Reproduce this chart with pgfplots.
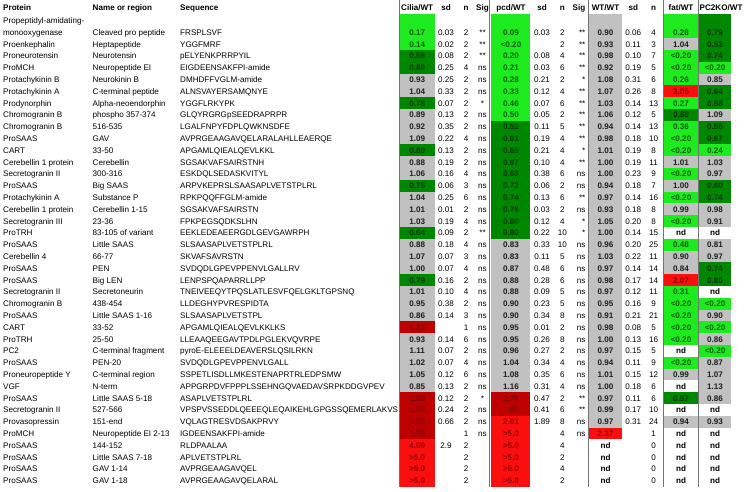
\documentclass[border=0pt]{standalone}
\usepackage{fontspec}
\setmainfont{Liberation Sans}
\usepackage{pgfplots}
\usepackage{pgfplotstable}
\pgfplotsset{compat=1.18}

% fill colours
\definecolor{cg}{RGB}{30,235,30}
\definecolor{cd}{RGB}{0,135,0}
\definecolor{cs}{RGB}{193,193,193}
\definecolor{cm}{RGB}{190,0,0}
\definecolor{cr}{RGB}{250,15,15}
\definecolor{cn}{RGB}{255,255,255}
% text colours on those fills (1 lime, 2 dark green, 3 grey, 4 dark red, 5 red, 6 none)
\definecolor{t1}{RGB}{15,95,15}
\definecolor{t2}{RGB}{0,55,0}
\definecolor{t3}{RGB}{30,30,30}
\definecolor{t4}{RGB}{105,0,0}
\definecolor{t5}{RGB}{150,0,0}
\definecolor{t6}{RGB}{0,0,0}

\pgfdeclareplotmark{cell}{\pgfpathrectangle{\pgfpoint{-0.5pt*\cw}{-0.5pt*\ch}}{\pgfpoint{1pt*\cw}{1pt*\ch}}\pgfusepathqfill}
\pgfdeclareplotmark{nothing}{}

\pgfplotsset{
  cellplot/.style={scatter, only marks, mark=cell, point meta=explicit symbolic,
    scatter/classes={g={fill=cg},d={fill=cd},s={fill=cs},m={fill=cm},r={fill=cr},n={fill=cn}},
    visualization depends on={#1 \as \cw},
    visualization depends on={(rawy < 30) ? 24.4 : 11.9 \as \ch}},
  txt/.style={only marks, mark=nothing, point meta=explicit symbolic, nodes near coords,
    every node near coord/.append style={inner sep=0pt, text=black,
      font=\fontsize{8.1}{9}\selectfont, anchor=#1}},
  valtxt/.style={only marks, mark=nothing, point meta=explicit symbolic, nodes near coords,
    every node near coord/.append style={inner sep=0pt, text=t#1,
      font=\fontsize{8.1}{9}\selectfont\bfseries, anchor=base}},
  hdr/.style={only marks, mark=nothing, point meta=explicit symbolic, nodes near coords,
    every node near coord/.append style={inner sep=0pt, text=black,
      font=\fontsize{8.1}{9}\selectfont\bfseries, anchor=#1}},
}

\pgfplotstableread{
r p nm sq
0 Propeptidyl-amidating- {} {}
1 monooxygenase {Cleaved pro peptide} FRSPLSVF
2 Proenkephalin Heptapeptide YGGFMRF
3 Proneurotensin Neurotensin pELYENKPRRPYIL
4 ProMCH {Neuropeptide EI} EIGDEENSAKFPI-amide
5 {Protachykinin B} {Neurokinin B} DMHDFFVGLM-amide
6 {Protachykinin A} {C-terminal peptide} ALNSVAYERSAMQNYE
7 Prodynorphin Alpha-neoendorphin YGGFLRKYPK
8 {Chromogranin B} {phospho 357-374} GLQYRGRGpSEEDRAPRPR
9 {Chromogranin B} 516-535 LGALFNPYFDPLQWKNSDFE
10 ProSAAS GAV AVPRGEAAGAVQELARALAHLLEAERQE
11 CART 33-50 APGAMLQIEALQEVLKKL
12 {Cerebellin 1 protein} Cerebellin SGSAKVAFSAIRSTNH
13 {Secretogranin II} 300-316 ESKDQLSEDASKVITYL
14 ProSAAS {Big SAAS} ARPVKEPRSLSAASAPLVETSTPLRL
15 {Protachykinin A} {Substance P} RPKPQQFFGLM-amide
16 {Cerebellin 1 protein} {Cerebellin 1-15} SGSAKVAFSAIRSTN
17 {Secretogranin III} 23-36 FPKPEGSQDKSLHN
18 ProTRH {83-105 of variant} EEKLEDEAEERGDLGEVGAWRPH
19 ProSAAS {Little SAAS} SLSAASAPLVETSTPLRL
20 {Cerebellin 4} 66-77 SKVAFSAVRSTN
21 ProSAAS PEN SVDQDLGPEVPPENVLGALLRV
22 ProSAAS {Big LEN} LENPSPQAPARRLLPP
23 {Secretogranin II} Secretoneurin TNEIVEEQYTPQSLATLESVFQELGKLTGPSNQ
24 {Chromogranin B} 438-454 LLDEGHYPVRESPIDTA
25 ProSAAS {Little SAAS 1-16} SLSAASAPLVETSTPL
26 CART 33-52 APGAMLQIEALQEVLKKLKS
27 ProTRH 25-50 LLEAAQEEGAVTPDLPGLEKVQVRPE
28 PC2 {C-terminal fragment} pyroE-ELEEELDEAVERSLQSILRKN
29 ProSAAS PEN-20 SVDQDLGPEVPPENVLGALL
30 {Proneuropeptide Y} {C-terminal region} SSPETLISDLLMKESTENAPRTRLEDPSMW
31 VGF N-term APPGRPDVFPPPLSSEHNGQVAEDAVSRPKDDGVPEV
32 ProSAAS {Little SAAS 5-18} ASAPLVETSTPLRL
33 {Secretogranin II} 527-566 VPSPVSSEDDLQEEEQLEQAIKEHLGPGSSQEMERLAKVS
34 Provasopressin 151-end VQLAGTRESVDSAKPRVY
35 ProMCH {Neuropeptide EI 2-13} IGDEENSAKFPI-amide
36 ProSAAS 144-152 RLDPAALAA
37 ProSAAS {Little SAAS 7-18} APLVETSTPLRL
38 ProSAAS {GAV 1-14} AVPRGEAAGAVQEL
39 ProSAAS {GAV 1-18} AVPRGEAAGAVQELARAL
}\lefttab

\pgfplotstableread{
r val c k sd n sig
1 0.17 g 1 0.03 2 **
2 0.14 g 1 0.02 2 **
3 0.56 d 2 0.08 2 **
4 0.80 d 2 0.25 4 ns
5 0.93 s 3 0.25 2 ns
6 1.04 s 3 0.33 2 ns
7 0.78 d 2 0.07 2 *
8 0.89 s 3 0.13 2 ns
9 0.92 s 3 0.35 2 ns
10 1.09 s 3 0.22 4 ns
11 0.80 d 2 0.13 2 ns
12 0.88 s 3 0.19 2 ns
13 1.06 s 3 0.16 4 ns
14 0.75 d 2 0.06 3 ns
15 1.04 s 3 0.25 6 ns
16 1.01 s 3 0.01 2 ns
17 1.03 s 3 0.19 4 ns
18 0.64 d 2 0.09 2 **
19 0.88 s 3 0.18 4 ns
20 1.07 s 3 0.07 3 ns
21 1.00 s 3 0.07 4 ns
22 0.79 d 2 0.16 2 ns
23 1.01 s 3 0.10 4 ns
24 0.95 s 3 0.38 2 ns
25 0.86 s 3 0.14 3 ns
26 1.20 m 4 {} 1 ns
27 0.93 s 3 0.14 6 ns
28 1.11 s 3 0.07 2 ns
29 1.02 s 3 0.07 4 ns
30 1.05 s 3 0.12 6 ns
31 0.85 s 3 0.13 2 ns
32 1.23 m 4 0.12 2 *
33 1.23 m 4 0.24 2 ns
34 1.23 m 4 0.66 2 ns
35 1.76 m 4 {} 1 ns
36 4.09 r 5 2.9 2 {}
37 >5.0 r 5 {} 2 {}
38 >5.0 r 5 {} 2 {}
39 >5.0 r 5 {} 2 {}
}\ciliatab

\pgfplotstableread{
r val c k sd n sig
1 0.09 g 1 0.03 2 **
2 <0.20 g 1 {} 2 **
3 0.20 g 1 0.08 4 **
4 0.21 g 1 0.03 6 **
5 0.28 g 1 0.21 2 *
6 0.33 g 1 0.12 4 **
7 0.46 g 1 0.07 6 **
8 0.50 g 1 0.05 2 **
9 0.52 d 2 0.11 5 **
10 0.61 d 2 0.19 4 **
11 0.65 d 2 0.21 4 *
12 0.67 d 2 0.10 4 **
13 0.68 d 2 0.38 6 ns
14 0.72 d 2 0.06 2 ns
15 0.74 d 2 0.13 6 **
16 0.76 d 2 0.03 2 ns
17 0.80 d 2 0.12 4 *
18 0.80 d 2 0.22 10 *
19 0.83 s 3 0.33 10 ns
20 0.83 s 3 0.11 5 ns
21 0.87 s 3 0.48 6 ns
22 0.88 s 3 0.28 6 ns
23 0.88 s 3 0.09 5 ns
24 0.90 s 3 0.23 5 ns
25 0.90 s 3 0.34 8 ns
26 0.95 s 3 0.01 2 ns
27 0.95 s 3 0.26 8 ns
28 0.96 s 3 0.27 2 ns
29 1.04 s 3 0.34 4 ns
30 1.08 s 3 0.35 6 ns
31 1.16 s 3 0.31 4 ns
32 1.76 m 4 0.47 2 **
33 1.99 m 4 0.41 6 **
34 2.01 r 5 1.89 8 ns
35 >5.0 r 5 {} 4 ns
36 >5.0 r 5 {} 4 {}
37 >5.0 r 5 {} 2 {}
38 >5.0 r 5 {} 4 {}
39 >5.0 r 5 {} 2 {}
}\pcdtab

\pgfplotstableread{
r val c k sd n
1 0.90 s 3 0.06 4
2 0.93 s 3 0.11 3
3 0.98 s 3 0.10 7
4 0.92 s 3 0.19 5
5 1.08 s 3 0.31 6
6 1.07 s 3 0.26 8
7 1.03 s 3 0.14 13
8 1.06 s 3 0.12 5
9 0.94 s 3 0.14 13
10 0.98 s 3 0.18 10
11 1.01 s 3 0.19 8
12 1.00 s 3 0.19 11
13 1.00 s 3 0.23 9
14 0.94 s 3 0.18 7
15 0.97 s 3 0.14 16
16 0.93 s 3 0.18 8
17 1.05 s 3 0.20 8
18 1.00 s 3 0.14 15
19 0.96 s 3 0.20 25
20 1.03 s 3 0.22 11
21 0.97 s 3 0.14 14
22 0.98 s 3 0.17 14
23 0.97 s 3 0.12 11
24 0.95 s 3 0.16 9
25 0.91 s 3 0.21 21
26 0.98 s 3 0.08 5
27 1.00 s 3 0.13 16
28 0.97 s 3 0.15 5
29 0.94 s 3 0.11 9
30 1.01 s 3 0.15 12
31 1.00 s 3 0.18 6
32 0.97 s 3 0.11 6
33 0.99 s 3 0.17 10
34 0.97 s 3 0.31 24
35 2.37 r 5 {} 1
36 nd n 6 {} 0
37 nd n 6 {} 0
38 nd n 6 {} 0
39 nd n 6 {} 0
}\wttab

\pgfplotstableread{
r fat cf kf pc cp kp
1 0.28 g 1 0.79 d 2
2 1.04 s 3 0.53 d 2
3 <0.20 g 1 0.74 d 2
4 <0.20 g 1 <0.20 g 1
5 0.26 g 1 0.85 s 3
6 3.05 r 5 0.64 d 2
7 0.27 g 1 0.58 d 2
8 0.68 d 2 1.09 s 3
9 0.36 g 1 0.58 d 2
10 <0.20 g 1 0.67 d 2
11 <0.20 g 1 0.24 g 1
12 1.01 s 3 1.03 s 3
13 <0.20 g 1 0.97 s 3
14 1.00 s 3 0.60 d 2
15 <0.20 g 1 0.74 d 2
16 0.99 s 3 0.98 s 3
17 <0.20 g 1 0.91 s 3
18 nd n 6 nd n 6
19 0.48 g 1 0.81 s 3
20 0.90 s 3 0.97 s 3
21 0.84 s 3 0.74 d 2
22 2.07 r 5 0.80 d 2
23 0.31 g 1 nd n 6
24 <0.20 g 1 <0.20 g 1
25 <0.20 g 1 0.90 s 3
26 <0.20 g 1 <0.20 g 1
27 <0.20 g 1 0.86 s 3
28 nd n 6 <0.20 g 1
29 <0.20 g 1 0.87 s 3
30 0.99 s 3 1.07 s 3
31 nd n 6 1.13 s 3
32 0.57 d 2 0.86 s 3
33 nd n 6 nd n 6
34 0.94 s 3 0.93 s 3
35 nd n 6 nd n 6
36 nd n 6 nd n 6
37 nd n 6 nd n 6
38 nd n 6 nd n 6
39 nd n 6 nd n 6
}\fattab

\pgfplotstableread{
x y label
3 10.4 Protein
92.5 10.4 {Name or region}
180 10.4 Sequence
699.5 10.4 PC2KO/WT
}\hdrL
\pgfplotstableread{
x y label
417.2 10.4 Cilia/WT
446 10.4 sd
466 10.4 n
482.5 10.4 Sig
511 10.4 pcd/WT
542 10.4 sd
562.3 10.4 n
605.5 10.4 WT/WT
633.3 10.4 sd
653.5 10.4 n
681 10.4 fat/WT
}\hdrC
\pgfplotstableread{
x y label
585.5 10.4 Sig
}\hdrE

\begin{document}
\begin{tikzpicture}
\begin{axis}[x=1pt, y=1pt, y dir=reverse, xmin=0, xmax=746, ymin=0, ymax=491,
  hide axis, clip=false, enlargelimits=false]
\addplot[draw=none, forget plot] coordinates {(0,0) (746,491)};

% left text columns
\addplot[txt=base west] table[x expr=3, y expr=32.3+(\thisrow{r}-1)*11.8+2.9, meta=p]{\lefttab};
\addplot[txt=base west] table[x expr=92.5, y expr=32.3+(\thisrow{r}-1)*11.8+2.9, meta=nm]{\lefttab};
\addplot[txt=base west] table[x expr=180, y expr=32.3+(\thisrow{r}-1)*11.8+2.9, meta=sq]{\lefttab};

% coloured cells
\addplot[cellplot=34.6] table[x expr=417.25, y expr={(\thisrow{r}==1) ? 26.1 : (32.3+(\thisrow{r}-1)*11.8)}, meta=c]{\ciliatab};
\addplot[cellplot=39.6] table[x expr=510.3, y expr={(\thisrow{r}==1) ? 26.1 : (32.3+(\thisrow{r}-1)*11.8)}, meta=c]{\pcdtab};
\addplot[cellplot=33.2] table[x expr=605.4, y expr={(\thisrow{r}==1) ? 26.1 : (32.3+(\thisrow{r}-1)*11.8)}, meta=c]{\wttab};
\addplot[cellplot=33.6] table[x expr=680.8, y expr={(\thisrow{r}==1) ? 26.1 : (32.3+(\thisrow{r}-1)*11.8)}, meta=cf]{\fattab};
\addplot[cellplot=32.0] table[x expr=715.0, y expr={(\thisrow{r}==1) ? 26.1 : (32.3+(\thisrow{r}-1)*11.8)}, meta=cp]{\fattab};

% values in the coloured columns, one plot per colour class
\pgfplotsinvokeforeach{1,2,3,4,5,6}{
\addplot[valtxt=#1, restrict expr to domain={\thisrow{k}}{#1:#1}] table[x expr=417.2, y expr=32.3+(\thisrow{r}-1)*11.8+2.9, meta=val]{\ciliatab};
\addplot[valtxt=#1, restrict expr to domain={\thisrow{k}}{#1:#1}] table[x expr=511, y expr=32.3+(\thisrow{r}-1)*11.8+2.9, meta=val]{\pcdtab};
\addplot[valtxt=#1, restrict expr to domain={\thisrow{k}}{#1:#1}] table[x expr=605.5, y expr=32.3+(\thisrow{r}-1)*11.8+2.9, meta=val]{\wttab};
\addplot[valtxt=#1, restrict expr to domain={\thisrow{kf}}{#1:#1}] table[x expr=681, y expr=32.3+(\thisrow{r}-1)*11.8+2.9, meta=fat]{\fattab};
\addplot[valtxt=#1, restrict expr to domain={\thisrow{kp}}{#1:#1}] table[x expr=715, y expr=32.3+(\thisrow{r}-1)*11.8+2.9, meta=pc]{\fattab};
}

% sd, n, Sig columns
\addplot[txt=base] table[x expr=446, y expr=32.3+(\thisrow{r}-1)*11.8+2.9, meta=sd]{\ciliatab};
\addplot[txt=base] table[x expr=466, y expr=32.3+(\thisrow{r}-1)*11.8+2.9, meta=n]{\ciliatab};
\addplot[txt=base] table[x expr=482.5, y expr=32.3+(\thisrow{r}-1)*11.8+2.9, meta=sig]{\ciliatab};
\addplot[txt=base] table[x expr=542, y expr=32.3+(\thisrow{r}-1)*11.8+2.9, meta=sd]{\pcdtab};
\addplot[txt=base] table[x expr=562.3, y expr=32.3+(\thisrow{r}-1)*11.8+2.9, meta=n]{\pcdtab};
\addplot[txt=base east] table[x expr=585.5, y expr=32.3+(\thisrow{r}-1)*11.8+2.9, meta=sig]{\pcdtab};
\addplot[txt=base] table[x expr=633.3, y expr=32.3+(\thisrow{r}-1)*11.8+2.9, meta=sd]{\wttab};
\addplot[txt=base] table[x expr=653.5, y expr=32.3+(\thisrow{r}-1)*11.8+2.9, meta=n]{\wttab};

% header
\addplot[hdr=base west] table[x=x, y=y, meta=label]{\hdrL};
\addplot[hdr=base] table[x=x, y=y, meta=label]{\hdrC};
\addplot[hdr=base east] table[x=x, y=y, meta=label]{\hdrE};

% vertical rules
\addplot[black!55, line width=0.9pt] coordinates {(399.3,0) (399.3,487)};
\addplot[black!55, line width=0.9pt] coordinates {(489.6,0) (489.6,487)};
\addplot[black!55, line width=0.9pt] coordinates {(588.0,0) (588.0,487)};
\addplot[black!55, line width=0.9pt] coordinates {(663.3,0) (663.3,487)};
\addplot[black!55, line width=0.9pt] coordinates {(698.4,0) (698.4,487)};
\end{axis}
\pgfresetboundingbox
\path[use as bounding box] (current axis.south west) rectangle (current axis.north east);
\end{tikzpicture}
\end{document}
